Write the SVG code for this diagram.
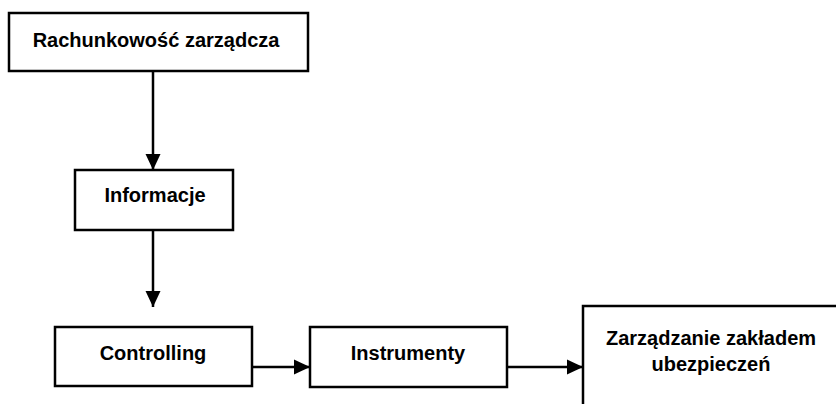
<svg xmlns="http://www.w3.org/2000/svg" width="836" height="404" viewBox="0 0 836 404">
<defs>
<marker id="arr" markerUnits="userSpaceOnUse" markerWidth="16" markerHeight="16" viewBox="0 0 16 16" refX="16" refY="8" orient="auto">
<path d="M0,0.5 L16,8 L0,15.5 Z" fill="#000"/>
</marker>
<style>
.box{fill:#fff;stroke:#000;stroke-width:2.5}
.t{font-family:"Liberation Sans",Arial,sans-serif;font-size:20px;font-weight:bold;fill:#000;text-anchor:middle}
.c{stroke:#000;stroke-width:2.5;fill:none;marker-end:url(#arr)}
</style>
</defs>
<rect width="836" height="404" fill="#fff"/>
<g id="connectors">
<line class="c" x1="153" y1="72" x2="153" y2="170"/>
<line class="c" x1="153" y1="230" x2="153" y2="307"/>
<line class="c" x1="252" y1="367" x2="310" y2="367"/>
<line class="c" x1="507" y1="367" x2="583" y2="367"/>
</g>
<g id="rachunkowosc">
<rect class="box" x="9" y="13" width="299" height="58"/>
<text class="t" x="156" y="47">Rachunkowość zarządcza</text>
</g>
<g id="informacje">
<rect class="box" x="75" y="170" width="158" height="60"/>
<text class="t" x="155" y="202">Informacje</text>
</g>
<g id="controlling">
<rect class="box" x="55" y="327" width="197" height="59"/>
<text class="t" x="153" y="360">Controlling</text>
</g>
<g id="instrumenty">
<rect class="box" x="310" y="327" width="197" height="60"/>
<text class="t" x="408" y="360">Instrumenty</text>
</g>
<g id="zarzadzanie">
<rect class="box" x="583" y="306" width="270" height="120"/>
<text class="t" x="711" y="345">Zarządzanie zakładem</text>
<text class="t" x="711" y="371">ubezpieczeń</text>
</g>
</svg>
